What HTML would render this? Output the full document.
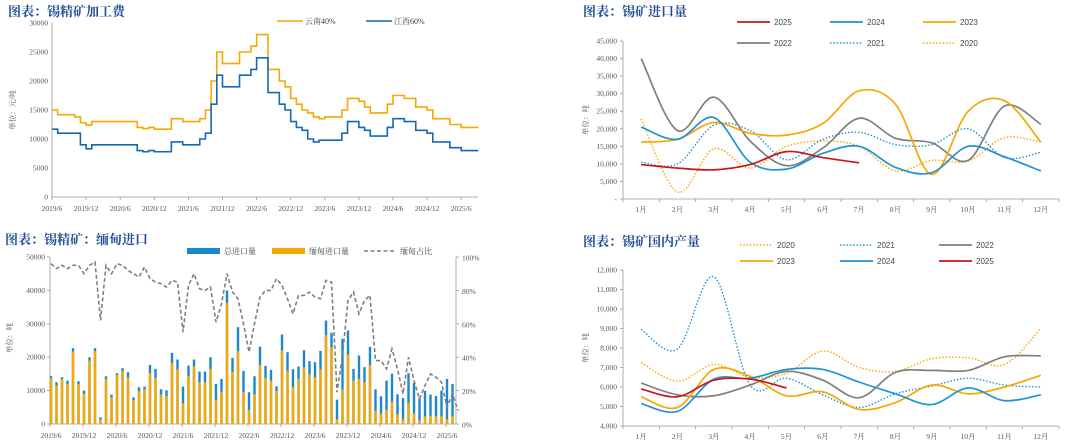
<!DOCTYPE html>
<html><head><meta charset="utf-8"><style>
html,body{margin:0;padding:0;background:#fff;}
svg{display:block;font-family:"Liberation Serif","Noto Serif CJK SC",serif;}
.t{font-family:"Liberation Serif","Noto Serif CJK SC",serif;font-weight:bold;fill:#1f4e96;font-size:13px;}
.tk{font-size:7.5px;fill:#555;}
.lg{font-size:8px;fill:#444;}
</style></head><body>
<svg id="s" width="1080" height="444" viewBox="0 0 1080 444">
<text class="t" x="8" y="16">图表：锡精矿加工费</text>
<text class="t" x="583" y="16">图表：锡矿进口量</text>
<text class="t" x="5" y="244">图表：锡精矿：缅甸进口</text>
<text class="t" x="583" y="246">图表：锡矿国内产量</text>
</svg>
<script>
// ---------- data ----------
const feeYunnan=[15000,14200,14200,14200,13800,12800,12400,13000,13000,13000,13000,13000,13000,13000,13000,12000,11800,12000,11700,11700,11700,13500,13500,13000,13000,13000,13500,15000,20000,25000,23000,23000,23000,25000,25000,26000,28000,28000,22000,22000,20000,19000,17000,16000,15000,14500,13800,13500,13800,13800,13800,15000,17000,17000,16500,15500,14500,14500,14500,16000,17500,17500,17000,17000,15500,15500,15000,13500,13500,13500,12500,12500,12000,12000,12000,12000];
const feeJiangxi=[11700,11000,11000,11000,11000,9000,8300,9000,9000,9000,9000,9000,9000,9000,9000,8000,7800,8000,7800,7800,7800,9500,9500,9000,9000,9000,10000,11000,16000,21000,19000,19000,19000,21000,21000,22000,24000,24000,18000,18000,16000,15000,13000,12000,11500,10000,9500,9800,9800,9800,9800,11000,13000,13000,12000,11500,10500,10500,10500,12000,13500,13500,13000,13000,11500,11500,11000,9500,9500,9500,8500,8500,8000,8000,8000,8000];
const feeTicks=[0,5000,10000,15000,20000,25000,30000];
const dateTicks=['2019/6','2019/12','2020/6','2020/12','2021/6','2021/12','2022/6','2022/12','2023/6','2023/12','2024/6','2024/12','2025/6'];

const months=['1月','2月','3月','4月','5月','6月','7月','8月','9月','10月','11月','12月'];
const imp2025=[9800,8800,8300,9800,13500,11800,10300];
const imp2024=[20500,17000,23200,10500,8500,13000,15000,9000,7500,15000,12000,8000];
const imp2023=[16200,17000,21800,18700,18200,21500,30800,27000,7000,25000,28000,16200];
const imp2022=[40000,19500,29000,16500,9500,14500,23000,17300,16000,11000,26500,21300];
const imp2021=[10500,10000,21000,19500,11200,17000,19000,15500,15500,20000,11800,13300];
const imp2020=[22800,2000,14300,8800,15000,16500,15000,8000,11000,10800,17500,16200];
const impTicks=[0,5000,10000,15000,20000,25000,30000,35000,40000,45000];

const totalImp=[14300,12500,14000,13000,22700,12800,10000,20000,22700,2000,14300,8800,15200,16700,15500,8000,11000,11200,17700,16500,10400,10100,21300,19300,11200,17500,19300,15700,15700,20000,12000,13500,40000,19800,29000,15900,9500,14300,23200,17400,16200,11300,26800,21500,16400,17200,22100,18800,18500,21900,31000,27300,7300,25500,28000,16500,20500,17000,23100,10400,8300,13000,15100,8900,7800,15200,12300,7700,9900,8800,8400,10000,13500,12000];
const burmaImp=[13700,11500,13500,12000,21700,12000,9000,19000,21800,1400,13500,8000,14700,15900,14000,7200,9800,10400,15300,13800,8800,8400,18300,16400,6200,14400,17300,12500,12500,16500,7300,9700,36300,15600,21800,9500,4200,8900,17700,13800,13000,9900,22100,15900,11000,13500,17000,14900,14000,16400,26600,22900,1400,10400,20800,13000,13500,12500,17700,3900,3100,4300,6700,2900,1400,6200,3200,1100,2300,2500,2300,2300,1400,2300];
const burmaShare=[96,93,95,93,95,95,90,95,97,62,95,90,96,95,92,90,88,94,87,85,84,82,86,85,55,83,90,81,80,82,61,72,90,79,75,60,43,60,76,80,80,87,83,75,66,77,77,79,76,75,86,85,19,41,74,79,66,74,77,38,38,33,45,33,18,40,26,15,23,30,28,25,10,18,8];
const burmaTicks=[0,10000,20000,30000,40000,50000];
const shareTicks=[0,20,40,60,80,100];

const out2020=[7250,6300,7150,6500,6700,7850,7000,6800,7450,7500,7150,9000];
const out2021=[8950,7950,11650,6100,6450,5600,4950,5650,6050,6450,6100,6000];
const out2022=[6200,5600,5550,6100,6800,6350,5450,6750,6850,6850,7550,7600];
const out2023=[5500,4950,6900,6550,5550,5750,4850,5200,6100,5650,6000,6600];
const out2024=[5150,4750,6400,6450,6900,6900,6250,5650,5100,5950,5300,5600];
const out2025=[5900,5500,6350,6400,5950];
const outTicks=[4000,5000,6000,7000,8000,9000,10000,11000,12000];

// ---------- helpers ----------
const S=document.getElementById('s');
const NS='http://www.w3.org/2000/svg';
function mk(tag,attrs,txt){const e=document.createElementNS(NS,tag);for(const k in attrs)e.setAttribute(k,attrs[k]);if(txt!==undefined)e.textContent=txt;S.appendChild(e);return e;}
function fmt(v){return v.toString().replace(/\B(?=(\d{3})+(?!\d))/g,',');}
function smooth(p){let d='M'+p[0][0]+','+p[0][1];for(let i=0;i<p.length-1;i++){const p0=p[i-1]||p[i],p1=p[i],p2=p[i+1],p3=p[i+2]||p2;const t=6;d+=' C'+(p1[0]+(p2[0]-p0[0])/t)+','+(p1[1]+(p2[1]-p0[1])/t)+' '+(p2[0]-(p3[0]-p1[0])/t)+','+(p2[1]-(p3[1]-p1[1])/t)+' '+p2[0]+','+p2[1];}return d;}
const ORG='#f7a800',BLU='#1469b4',LBLU='#1f93d6',RED='#c8161d',GRY='#7f7f7f';

// ---------- chart 1 ----------
(function(){
const x0=52,x1=478,yb=197,yt=23;
const X=m=>x0+m*34.1/6, Y=v=>yb-(v/30000)*(yb-yt);
let e=mk('line',{x1:x0,y1:yt,x2:x0,y2:yb,stroke:'#999','stroke-width':0.8});

e=mk('line',{x1:x0,y1:yb,x2:x1,y2:yb,stroke:'#999','stroke-width':0.8});

feeTicks.forEach(v=>{const t=mk('text',{x:x0-4,y:Y(v)+2.5,'text-anchor':'end',class:'tk'},v);
});
dateTicks.forEach((d,i)=>{const t=mk('text',{x:X(i*6),y:211,'text-anchor':'middle',class:'tk'},d);

mk('line',{x1:X(i*6),y1:yb,x2:X(i*6),y2:yb+3,stroke:'#999','stroke-width':0.8});});
e=mk('text',{x:0,y:0,class:'tk',transform:'translate(15,110) rotate(-90)','text-anchor':'middle'},'单位：元/吨');

function step(arr,col,name){let d='M'+X(0)+','+Y(arr[0]);for(let i=1;i<arr.length;i++){d+=' H'+X(i)+' V'+Y(arr[i]);}
const p=mk('path',{d:d,fill:'none',stroke:col,'stroke-width':1.6});
}
step(feeYunnan,ORG,'series-yunnan-40');step(feeJiangxi,BLU,'series-jiangxi-60');
[[277,ORG,'云南40%','legend-yunnan'],[366,BLU,'江西60%','legend-jiangxi']].forEach(l=>{
mk('line',{x1:l[0],y1:21,x2:l[0]+26,y2:21,stroke:l[1],'stroke-width':1.6});
const t=mk('text',{x:l[0]+28,y:24,class:'lg'},l[2]);
});
})();

// ---------- category line charts ----------
function catChart(cfg){
const x0=623,x1=1059,yb=cfg.yb,yt=cfg.yt,cw=(x1-x0)/12;
const X=i=>x0+cw*(i+0.5), Y=v=>yb-(v-cfg.min)/(cfg.max-cfg.min)*(yb-yt);
let e=mk('line',{x1:x0,y1:yt,x2:x0,y2:yb,stroke:'#999','stroke-width':0.8});

e=mk('line',{x1:x0,y1:yb,x2:x1,y2:yb,stroke:'#999','stroke-width':0.8});

cfg.ticks.forEach(v=>{mk('line',{x1:x0-3,y1:Y(v),x2:x0,y2:Y(v),stroke:'#999','stroke-width':0.8});
const t=mk('text',{x:x0-6,y:Y(v)+2.5,'text-anchor':'end',class:'tk'},v===0?'-':fmt(v));
});
for(let i=0;i<=12;i++)mk('line',{x1:x0+cw*i,y1:yb,x2:x0+cw*i,y2:yb+3,stroke:'#999','stroke-width':0.8});
months.forEach((m,i)=>{const t=mk('text',{x:X(i),y:yb+13,'text-anchor':'middle',class:'tk'},m);
});
e=mk('text',{x:0,y:0,class:'tk',transform:'translate(588,'+((yb+yt)/2)+') rotate(-90)','text-anchor':'middle'},'单位：吨');

cfg.series.forEach(s=>{const pts=s.data.map((v,i)=>[X(i),Y(v)]);
const p=mk('path',{d:smooth(pts),fill:'none',stroke:s.col,'stroke-width':s.dot?1.4:1.7,'stroke-dasharray':s.dot?'1.5,1.8':'none'});

mk('line',{x1:s.lx,y1:s.ly,x2:s.lx+33,y2:s.ly,stroke:s.col,'stroke-width':s.dot?1.4:1.7,'stroke-dasharray':s.dot?'1.5,1.8':'none'});
const t=mk('text',{x:s.lx+37,y:s.ly+3,class:'lg','font-family':'Liberation Sans, sans-serif'},s.name);
});
}
catChart({id:'import',yb:199,yt:41,min:0,max:45000,ticks:impTicks,series:[
{name:'2020',data:imp2020,col:ORG,dot:1,lx:923,ly:43},
{name:'2021',data:imp2021,col:LBLU,dot:1,lx:830,ly:43},
{name:'2022',data:imp2022,col:GRY,lx:737,ly:43},
{name:'2023',data:imp2023,col:ORG,lx:923,ly:22},
{name:'2024',data:imp2024,col:LBLU,lx:830,ly:22},
{name:'2025',data:imp2025,col:RED,lx:737,ly:22}]});
catChart({id:'output',yb:426,yt:270,min:4000,max:12000,ticks:outTicks,series:[
{name:'2020',data:out2020,col:ORG,dot:1,lx:740,ly:245},
{name:'2021',data:out2021,col:LBLU,dot:1,lx:840,ly:245},
{name:'2022',data:out2022,col:GRY,lx:939,ly:245},
{name:'2023',data:out2023,col:ORG,lx:740,ly:261},
{name:'2024',data:out2024,col:LBLU,lx:840,ly:261},
{name:'2025',data:out2025,col:RED,lx:939,ly:261}]});

// ---------- chart 3 ----------
(function(){
const x0=50,x1=456,yb=424,yt=257,mw=5.5;
const X=m=>x0+1+m*mw, Y=v=>yb-v/50000*(yb-yt), YP=p=>yb-p/100*(yb-yt);
let e=mk('line',{x1:x0,y1:yt,x2:x0,y2:yb,stroke:'#999','stroke-width':0.8});

e=mk('line',{x1:x1,y1:yt,x2:x1,y2:yb,stroke:'#999','stroke-width':0.8});

e=mk('line',{x1:x0,y1:yb,x2:x1,y2:yb,stroke:'#999','stroke-width':0.8});

burmaTicks.forEach(v=>{mk('line',{x1:x0-3,y1:Y(v),x2:x0,y2:Y(v),stroke:'#999','stroke-width':0.8});
const t=mk('text',{x:x0-5,y:Y(v)+2.5,'text-anchor':'end',class:'tk'},v);
});
shareTicks.forEach(v=>{mk('line',{x1:x1,y1:YP(v),x2:x1+3,y2:YP(v),stroke:'#999','stroke-width':0.8});
const t=mk('text',{x:x1+6,y:YP(v)+3.5,class:'tk','font-size':'10'},v+'%');
});
dateTicks.forEach((d,i)=>{mk('line',{x1:X(i*6)-1,y1:yb,x2:X(i*6)-1,y2:yb+3,stroke:'#999','stroke-width':0.8});
const t=mk('text',{x:X(i*6),y:438,'text-anchor':'middle',class:'tk'},d);
});
e=mk('text',{x:0,y:0,class:'tk',transform:'translate(12,338) rotate(-90)','text-anchor':'middle'},'单位：吨');

totalImp.forEach((v,i)=>{const b=mk('rect',{x:X(i)-1.2,y:Y(v),width:2.4,height:yb-Y(v),fill:'#1a87cf'});

const o=mk('rect',{x:X(i)-1.2,y:Y(burmaImp[i]),width:2.4,height:yb-Y(burmaImp[i]),fill:ORG});
});
const p=mk('path',{d:'M'+burmaShare.map((v,i)=>X(i)+','+YP(v)).join(' L'),fill:'none',stroke:'#7f7f7f','stroke-width':1.6,'stroke-dasharray':'4,2.5'});

e=mk('rect',{x:187,y:248,width:33,height:6,fill:'#1a87cf'});

e=mk('text',{x:224,y:254,class:'lg'},'总进口量');
e=mk('rect',{x:272,y:248,width:33,height:6,fill:ORG});

e=mk('text',{x:309,y:254,class:'lg'},'缅甸进口量');
mk('line',{x1:364,y1:251,x2:396,y2:251,stroke:'#7f7f7f','stroke-width':1.6,'stroke-dasharray':'4,2.5'});
e=mk('text',{x:400,y:254,class:'lg'},'缅甸占比');
})();
</script>
</body></html>
